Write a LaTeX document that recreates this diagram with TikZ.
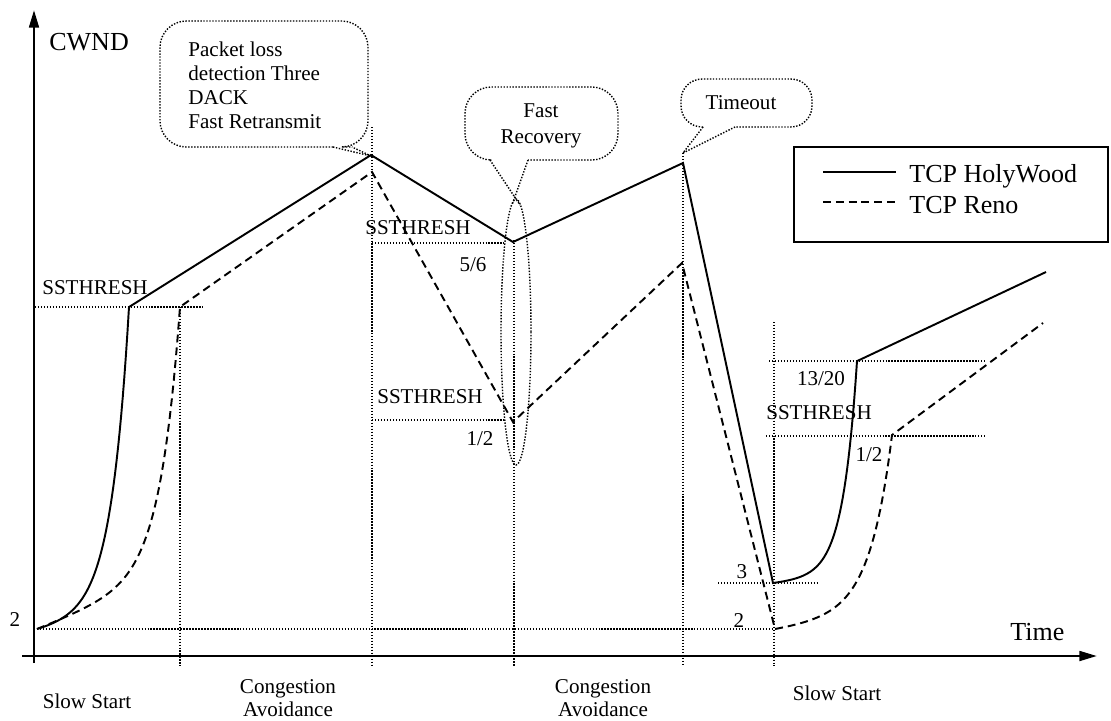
\documentclass[tikz,border=0pt]{standalone}
\usepackage{fontspec}
\setmainfont{Liberation Serif}
\usetikzlibrary{arrows.meta}
\begin{document}
\begin{tikzpicture}[x=0.02cm, y=-0.02cm,
    holy/.style={line width=1.1pt},
    reno/.style={line width=1.1pt, dash pattern=on 4.5pt off 2.8pt},
    guide/.style={line width=0.8pt, dash pattern=on 0.8pt off 0.9pt},
    axis/.style={line width=1.5pt, -{Triangle[length=10pt,width=5.5pt]}},
    lbl/.style={inner sep=0pt, font=\fontsize{12}{13.7}\selectfont},
    biglbl/.style={inner sep=0pt, font=\fontsize{14.8}{16}\selectfont}]
  \useasboundingbox (0,0) rectangle (1111,720);

  % axes
  \draw[axis] (34,663) -- (34,10);
  \draw[axis] (22,656) -- (1097,656);
  \node[biglbl, anchor=west] (cwnd) at (49,42) {CWND};
  \node[biglbl, anchor=west] (time) at (1010,632) {Time};

  % phase borders
  \foreach \x/\top in {180/307, 372/127, 514/240, 683/153, 774/322}{
    \draw[guide] (\x,\top) -- (\x,666);
  }

  % threshold levels
  \draw[guide] (34,629) -- (775,629);
  \draw[guide] (35,307) -- (203,307);
  \draw[guide] (372,243) -- (504,243);
  \draw[guide] (372,420) -- (504,420);
  \draw[guide] (769,361) -- (985,361);
  \draw[guide] (766,436) -- (985,436);
  \draw[guide] (718,583) -- (819,583);

  \node[lbl] (twoa) at (15,620) {2};
  \node[lbl] (ssa) at (95,288) {SSTHRESH};
  \node[lbl] (ssb) at (418,228) {SSTHRESH};
  \node[lbl] (fivesix) at (473,265) {5/6};
  \node[lbl] (ssc) at (430,397) {SSTHRESH};
  \node[lbl] (halfa) at (480,439) {1/2};
  \node[lbl] (thirteen) at (821,379) {13/20};
  \node[lbl] (ssd) at (819,413) {SSTHRESH};
  \node[lbl] (halfb) at (869,455) {1/2};
  \node[lbl] (three) at (742,572) {3};
  \node[lbl] (twob) at (739,621) {2};

  % phase names
  \node[lbl] (slowa) at (87,701) {Slow Start};
  \node[lbl, align=center] (conga) at (288,698) {Congestion\\[-0.6pt]Avoidance};
  \node[lbl, align=center] (congb) at (603,698) {Congestion\\[-0.6pt]Avoidance};
  \node[lbl] (slowb) at (837,693) {Slow Start};

  % callouts
  \draw[guide, rounded corners=15] (333,147) -- (160,147) -- (160,21) -- (368,21) -- (368,147) -- (352,147);
  \draw[guide] (333,147) -- (371,156) -- (352,147);
  \node[lbl, align=left, anchor=west] (lossnote) at (188,85) {Packet loss\\detection Three\\DACK\\Fast Retransmit};

  \draw[guide, rounded corners=15] (490,160) -- (465,160) -- (465,87) -- (618,87) -- (618,160) -- (528,160);
  \draw[guide] (490,160) -- (520,205);
  \draw[guide] (528,160) -- (512,205);
  \node[lbl, align=center] (frnote) at (541,126) {Fast\\[1pt]Recovery};
  \draw[guide] (516,332) ellipse [x radius=15, y radius=133];

  \draw[guide, rounded corners=12] (703,127) -- (681,127) -- (681,79) -- (812,79) -- (812,127) -- (735,127);
  \draw[guide] (703,127) -- (683,153) -- (735,127);
  \node[lbl] (tonote) at (741,103) {Timeout};

  % legend
  \draw[line width=1.2pt] (794,147) rectangle (1108,242);
  \draw[holy] (823,172) -- (896,172);
  \draw[reno] (823,202) -- (896,202);
  \node[biglbl, anchor=base west] (leghw) at (909,182) {TCP HolyWood};
  \node[biglbl, anchor=base west] (legreno) at (909,213) {TCP Reno};

  % TCP HolyWood
  \coordinate (hwpeak) at (371,155);
  \coordinate (hwfr) at (513,242);
  \coordinate (hwto) at (683,163);
  \coordinate (hwmin) at (773,583);
  \coordinate (hwend) at (1046,272);
  \draw[holy] plot[domain=0:92, samples=60] ({37+\x},{629-0.2*\x-1.94*(exp(0.055*\x)-1)})
    -- (hwpeak) -- (hwfr) -- (hwto) -- (hwmin)
    -- plot[domain=0:84, samples=60] ({773+\x},{583-0.1*\x-0.598*(exp(0.07*\x)-1)})
    -- (hwend);

  % TCP Reno
  \coordinate (renopeak) at (372,172);
  \coordinate (renofr) at (513,422);
  \coordinate (renoto) at (682,263);
  \coordinate (renomin) at (775,629);
  \coordinate (renoend) at (1043,323);
  \draw[reno] plot[domain=0:143, samples=70] ({37+\x},{629-0.4*\x-0.208*(exp(0.05*\x)-1)})
    -- (renopeak) -- (renofr) -- (renoto) -- (renomin)
    -- plot[domain=0:117, samples=70] ({775+\x},{629-0.15*\x-0.917*(exp(0.045*\x)-1)})
    -- (renoend);
\end{tikzpicture}
\end{document}
